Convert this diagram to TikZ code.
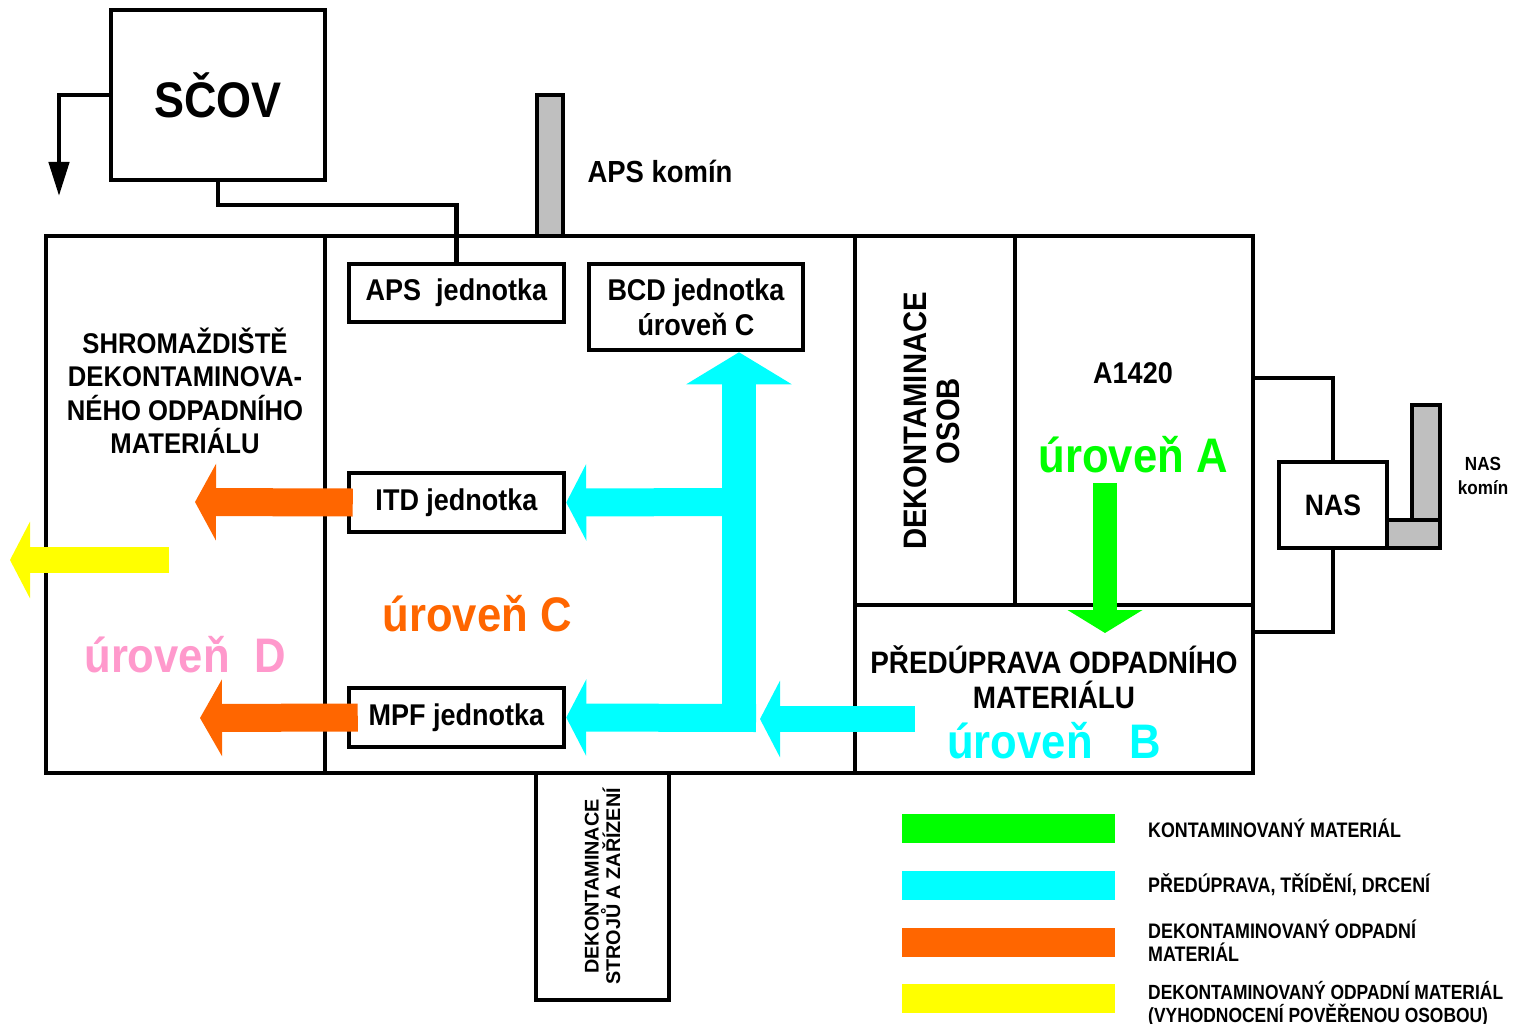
\documentclass[tikz,border=0pt]{standalone}
\usepackage{fontspec}
\setmainfont{Liberation Sans}[FakeStretch=0.9]
\newfontfamily\legendfont{Liberation Sans}[FakeStretch=0.85]
\newfontfamily\widefont{Liberation Sans}
\usetikzlibrary{arrows.meta}
\definecolor{kontam}{HTML}{00FF00}
\definecolor{predup}{HTML}{00FFFF}
\definecolor{dekont}{HTML}{FF6600}
\definecolor{vyhod}{HTML}{FFFF00}
\definecolor{urovD}{HTML}{FF99CC}

\begin{document}
\begin{tikzpicture}[x=1pt,y=-1pt,
	wall/.style={line width=4.5pt},
	unitbox/.style={draw, line width=4.5pt, fill=white, inner sep=0pt, align=center, font=\fontsize{30}{35}\selectfont\bfseries},
	chimney/.style={draw, line width=4.5pt, fill=gray!50},
	roomtext/.style={align=center, font=\fontsize{28.5}{33.5}\selectfont\bfseries},
	grade/.style={font=\fontsize{48.5}{56}\selectfont\bfseries},
	stream/.style={line width=#1, line cap=butt},
	legendtext/.style={anchor=west, align=left, inner sep=0pt, font=\legendfont\fontsize{21}{23}\selectfont\bfseries}]
	\useasboundingbox (0,0) rectangle (1514,1024);

	\draw[chimney] (537,95) rectangle (563,236);
	\draw[chimney] (1412,405) rectangle (1440,520);
	\draw[chimney] (1387,520) rectangle (1440,548);

	\draw[wall] (46,236) rectangle (1253,773);
	\draw[wall] (325,236) -- (325,773);
	\draw[wall] (855,236) -- (855,773);
	\draw[wall] (1015,236) -- (1015,605);
	\draw[wall] (855,605) -- (1253,605);

	\node[unitbox, minimum width=214pt, minimum height=170pt, font=\fontsize{50}{56}\selectfont\bfseries] (scov) at (218,95) {SČOV};
	\node[unitbox, minimum width=215pt, minimum height=58pt] (aps) at (456.5,293) {APS~ jednotka};
	\node[unitbox, minimum width=214pt, minimum height=86pt] (bcd) at (696,307) {BCD jednotka\\úroveň C};
	\node[unitbox, minimum width=215pt, minimum height=59pt] (itd) at (456.5,502.5) {ITD jednotka};
	\node[unitbox, minimum width=215pt, minimum height=59pt] (mpf) at (456.5,717.5) {MPF jednotka};
	\node[unitbox, minimum width=108pt, minimum height=86pt, font=\fontsize{29.5}{34}\selectfont\bfseries] (nas) at (1333,505) {NAS};
	\node[unitbox, minimum width=133pt, minimum height=227pt] (stroje) at (602.5,886.5) {};
	\node[rotate=90, align=center, font=\widefont\fontsize{19.8}{21.5}\selectfont\bfseries] (strojetext) at (stroje) {DEKONTAMINACE\\STROJŮ A ZAŘÍZENÍ};

	\coordinate (outlet) at (59,196);
	\coordinate (wallA) at (1253,378);
	\coordinate (wallB) at (1253,632);
	\draw[wall, -{Triangle[length=34pt,width=20pt]}] (scov.west) -| (outlet);
	\draw[wall] (scov.south) -- ++(0,23) -| (aps.north);
	\draw[wall] (wallA) -| (nas.north);
	\draw[wall] (nas.south) |- (wallB);

	\coordinate (trunk) at (739,732);
	\coordinate (cutItd) at (739,502);
	\coordinate (cutMpf) at (756,718);
	\coordinate (fromB) at (915,719);
	\coordinate (toB) at (760,719);
	\draw[stream=28pt, predup, -{Triangle[length=20pt,width=76pt]}] (cutItd) -- (itd.east);
	\draw[stream=28pt, predup, -{Triangle[length=20pt,width=76pt]}] (cutMpf) -- (mpf.east);
	\draw[stream=34pt, predup, -{Triangle[length=32pt,width=104pt]}] (trunk) -- (trunk |- bcd.south);
	\draw[stream=26pt, predup, -{Triangle[length=20pt,width=76pt]}] (fromB) -- (toB);

	\coordinate (dumpItd) at (195,502);
	\coordinate (dumpMpf) at (200,718);
	\draw[stream=28pt, dekont, -{Triangle[length=21pt,width=76pt]}] ([xshift=6pt]itd.west) -- (dumpItd);
	\draw[stream=28pt, dekont, -{Triangle[length=22pt,width=76pt]}] ([xshift=11pt]mpf.west) -- (dumpMpf);

	\coordinate (yelStart) at (169,560);
	\coordinate (yelEnd) at (10,560);
	\draw[stream=26pt, vyhod, -{Triangle[length=20pt,width=76pt]}] (yelStart) -- (yelEnd);

	\coordinate (greenStart) at (1105,483);
	\coordinate (greenEnd) at (1105,633);
	\draw[stream=24pt, kontam, -{Triangle[length=23pt,width=74pt]}] (greenStart) -- (greenEnd);

	\node[anchor=west, font=\fontsize{30.5}{34}\selectfont\bfseries] (apskomin) at (584,171) {APS komín};
	\node[align=center, font=\fontsize{19}{24}\selectfont\bfseries] (naskomin) at (1483,476) {NAS\\komín};
	\node[roomtext] (shrom) at (185,391) {SHROMAŽDIŠTĚ\\DEKONTAMINOVA-\\NÉHO ODPADNÍHO\\MATERIÁLU};
	\node[rotate=90, align=center, font=\fontsize{32.5}{33}\selectfont\bfseries] (osob) at (932,421) {DEKONTAMINACE\\OSOB};
	\node[font=\fontsize{30}{34}\selectfont\bfseries] (a1420) at (1133,373) {A1420};
	\node[roomtext, font=\fontsize{31}{35}\selectfont\bfseries] (predupr) at (1054,677) {PŘEDÚPRAVA ODPADNÍHO\\MATERIÁLU};
	\node[grade, kontam] (levA) at (1133,455) {úroveň A};
	\node[grade, predup] (levB) at (1054,741) {úroveň~~ B};
	\node[grade, dekont] (levC) at (477,614) {úroveň C};
	\node[grade, urovD] (levD) at (185,655) {úroveň~ D};

	\foreach \c/\y in {kontam/828.5, predup/885.5, dekont/942.5, vyhod/998.5}
		\fill[\c] (902,\y-14.5) rectangle (1115,\y+14.5);
	\node[legendtext] (legA) at (1148,828) {KONTAMINOVANÝ MATERIÁL};
	\node[legendtext] (legB) at (1148,885) {PŘEDÚPRAVA, TŘÍDĚNÍ, DRCENÍ};
	\node[legendtext] (legC) at (1148,941) {DEKONTAMINOVANÝ ODPADNÍ\\MATERIÁL};
	\node[legendtext, font=\legendfont\fontsize{20.5}{22.5}\selectfont\bfseries] (legD) at (1148,1004) {DEKONTAMINOVANÝ ODPADNÍ MATERIÁL\\(VYHODNOCENÍ POVĚŘENOU OSOBOU)};
\end{tikzpicture}
\end{document}
